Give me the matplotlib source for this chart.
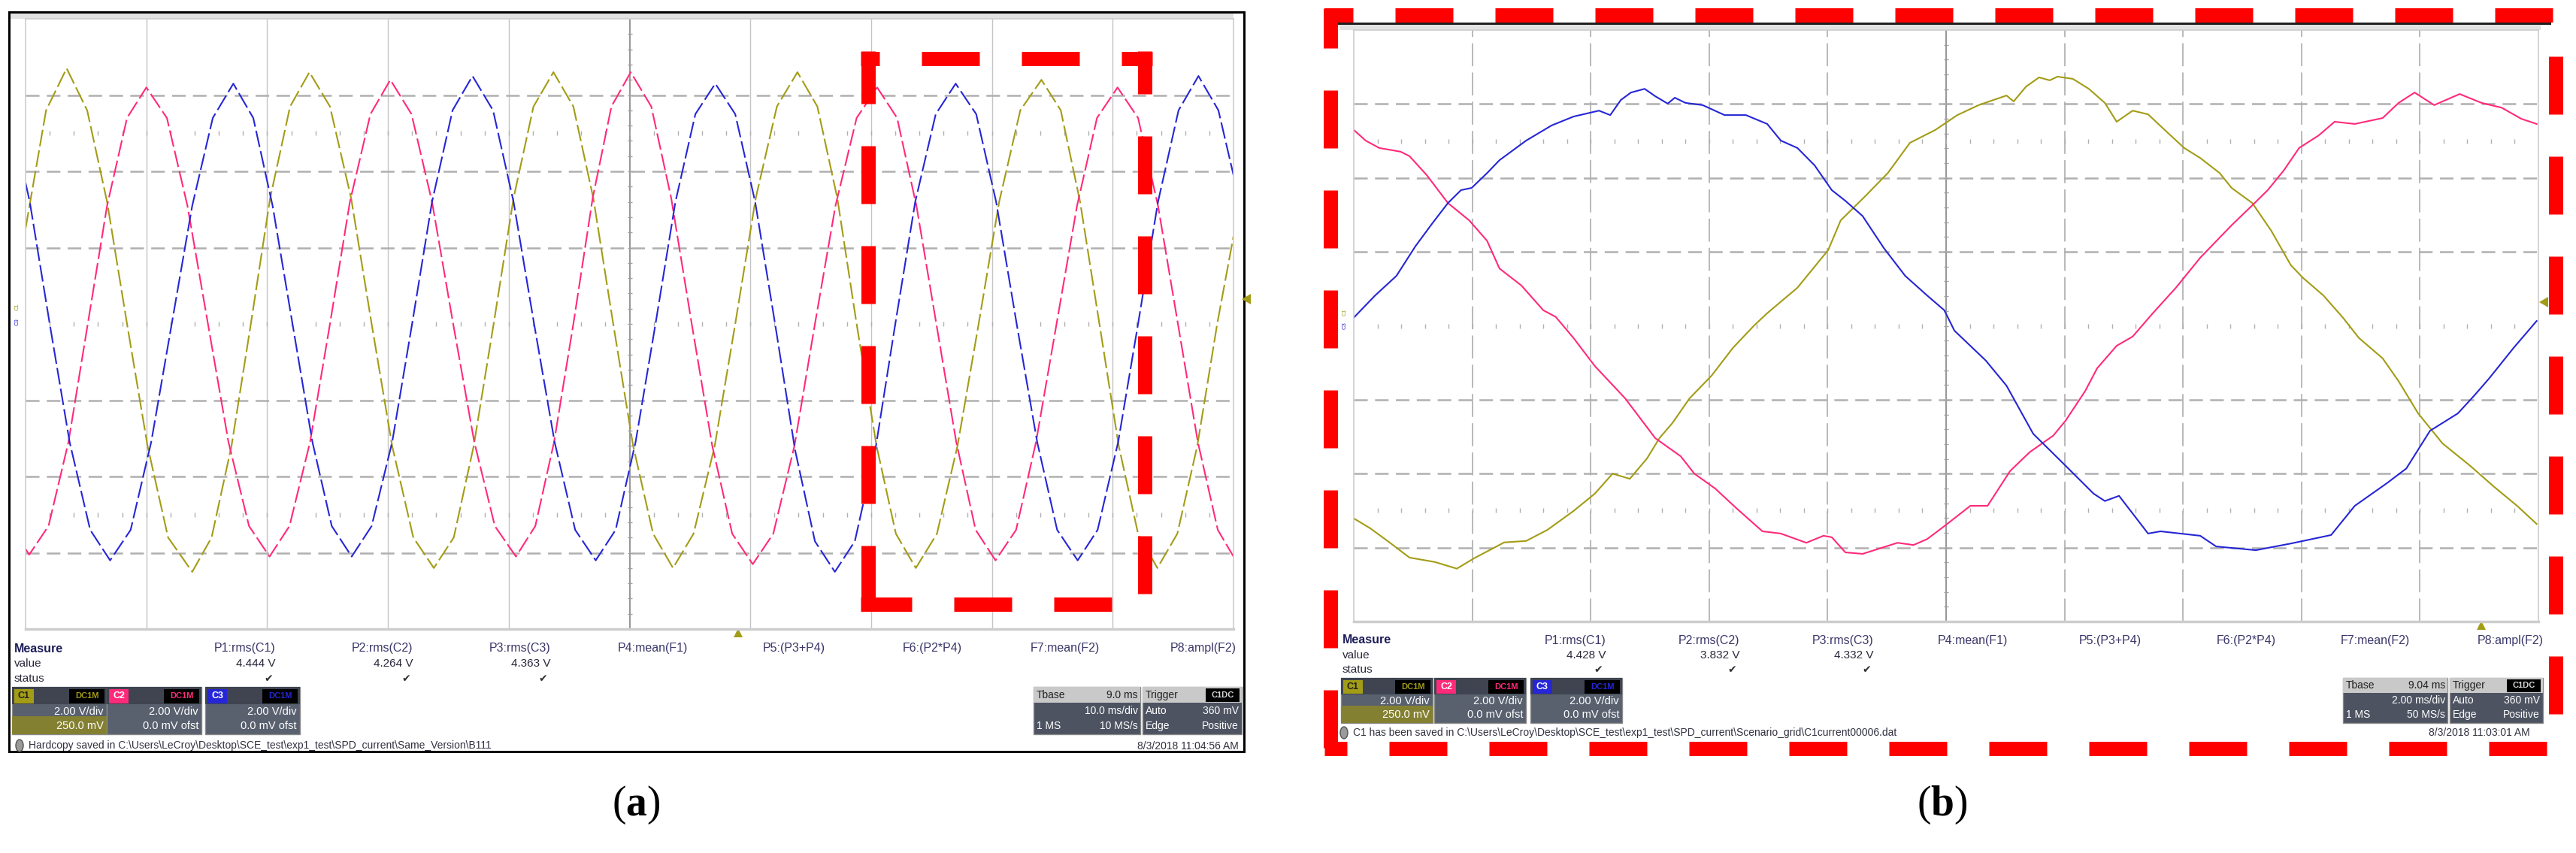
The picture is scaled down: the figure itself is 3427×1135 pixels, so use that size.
import matplotlib
matplotlib.use('Agg')
import matplotlib.pyplot as plt
from matplotlib.patches import Rectangle, Polygon, Ellipse

plt.rcParams['font.family'] = ['Liberation Sans', 'DejaVu Sans']
plt.rcParams['lines.scale_dashes'] = False
plt.rcParams['mathtext.fontset'] = 'custom'
plt.rcParams['mathtext.rm'] = 'Liberation Serif'
plt.rcParams['mathtext.bf'] = 'Liberation Serif:bold'

# ---------------- data ----------------
# (a) 10 ms/div, 2 V/div  -> time in ms, voltage in V
a_t_c1 = [0, 1.7, 3.4, 5.1, 6.75, 8.4, 10.1, 11.8, 13.8, 15.4, 17.05, 18.65, 20.25, 21.9, 23.5,
          25.2, 26.95, 28.65, 30.35, 32.1, 33.8, 35.45, 37.1, 38.75, 40.4, 42.05, 43.7, 45.35,
          47.0, 48.65, 50.3, 51.95, 53.6, 55.3, 57.05, 58.75, 60.45, 62.2, 63.9, 65.55, 67.2,
          68.8, 70.45, 72.05, 73.7, 75.45, 77.15, 78.9, 80.6, 82.35, 84.1, 85.7, 87.3, 88.9,
          90.5, 92.1, 93.7, 95.35, 97.0, 98.65, 100]
a_v_c1 = [2.5, 5.6, 6.7, 5.6, 3.2, 0.0, -3.2, -5.6, -6.5, -5.6, -3.2, 0.0, 3.3, 5.7, 6.6,
          5.7, 3.3, 0.0, -3.2, -5.6, -6.4, -5.6, -3.2, 0.0, 3.3, 5.7, 6.6, 5.7,
          3.3, 0.0, -3.2, -5.5, -6.4, -5.5, -3.2, 0.0, 3.3, 5.7, 6.6, 5.7, 3.3,
          0.0, -3.2, -5.5, -6.4, -5.5, -3.2, 0.0, 3.2, 5.6, 6.4, 5.6, 3.2, 0.0,
          -3.2, -5.5, -6.4, -5.5, -3.2, 0.0, 2.3]
a_t_c2 = [0, 0.3, 1.9, 3.55, 5.15, 6.75, 8.4, 10.0, 11.7, 13.4, 15.1, 16.8, 18.5, 20.2, 21.85,
          23.55, 25.2, 26.85, 28.55, 30.2, 31.95, 33.65, 35.4, 37.15, 38.85, 40.6, 42.2, 43.75,
          45.35, 46.95, 48.5, 50.1, 51.8, 53.45, 55.15, 56.85, 58.5, 60.2, 61.9, 63.65, 65.35,
          67.05, 68.8, 70.5, 72.15, 73.75, 75.4, 77.05, 78.65, 80.3, 82.0, 83.65, 85.35, 87.05,
          88.7, 90.4, 92.1, 93.75, 95.4, 97.05, 98.7, 100]
a_v_c2 = [-5.9, -6.05, -5.3, -3.1, 0.0, 3.1, 5.4, 6.2, 5.4, 3.1, 0.0, -3.1, -5.3, -6.1, -5.3,
          -3.1, 0.0, 3.2, 5.5, 6.4, 5.5, 3.2, 0.0, -3.1, -5.3, -6.1, -5.3, -3.1,
          0.0, 3.3, 5.7, 6.6, 5.7, 3.3, 0.0, -3.2, -5.5, -6.3, -5.5, -3.2, 0.0,
          3.1, 5.4, 6.2, 5.4, 3.1, 0.0, -3.1, -5.4, -6.2, -5.4, -3.1, 0.0, 3.1,
          5.4, 6.2, 5.4, 3.1, 0.0, -3.1, -5.4, -6.1]
a_t_c3 = [0, 0.35, 2.0, 3.65, 5.35, 7.0, 8.7, 10.4, 12.1, 13.8, 15.5, 17.2, 18.85, 20.45, 22.1,
          23.75, 25.35, 27.0, 28.65, 30.35, 32.0, 33.65, 35.35, 37.0, 38.7, 40.4, 42.1, 43.8,
          45.5, 47.2, 48.85, 50.5, 52.15, 53.8, 55.45, 57.1, 58.75, 60.4, 62.05, 63.7, 65.35,
          67.0, 68.65, 70.35, 72.0, 73.65, 75.35, 77.0, 78.7, 80.35, 82.05, 83.75, 85.4, 87.1,
          88.75, 90.45, 92.1, 93.75, 95.45, 97.1, 98.75, 100]
a_v_c3 = [3.7, 3.2, 0.0, -3.1, -5.4, -6.2, -5.4, -3.1, 0.0, 3.1, 5.4, 6.3, 5.4, 3.1, 0.0,
          -3.1, -5.3, -6.1, -5.3, -3.1, 0.0, 3.2, 5.6, 6.5, 5.6, 3.2, 0.0, -3.1,
          -5.4, -6.2, -5.4, -3.1, 0.0, 3.2, 5.5, 6.3, 5.5, 3.2, 0.0, -3.3, -5.7,
          -6.5, -5.7, -3.3, 0.0, 3.2, 5.5, 6.3, 5.5, 3.2, 0.0, -3.1, -5.4, -6.2,
          -5.4, -3.1, 0.0, 3.2, 5.6, 6.5, 5.6, 3.9]

# (b) 2 ms/div, 2 V/div
b_t_c1 = [0.0, 0.28, 0.57, 0.94, 1.37, 1.74, 2.03, 2.54, 2.91, 3.27, 3.71, 4.07, 4.37, 4.66,
          4.95, 5.16, 5.38, 5.67, 6.04, 6.40, 6.76, 6.98, 7.49, 8.01, 8.22, 8.65, 9.02, 9.39,
          9.82, 10.19, 10.55, 11.02, 11.14, 11.35, 11.57, 11.75, 11.88, 12.14, 12.41, 12.68,
          12.88, 13.15, 13.41, 13.69, 14.02, 14.29, 14.62, 14.82, 15.17, 15.49, 15.82, 16.03,
          16.37, 16.70, 16.97, 17.37, 17.64, 17.97, 18.38, 18.85, 19.24, 19.64, 19.97]
b_v_c1 = [-5.21, -5.48, -5.82, -6.27, -6.39, -6.57, -6.29, -5.86, -5.82, -5.52, -5.01, -4.54,
          -4.00, -4.14, -3.59, -3.04, -2.63, -1.96, -1.35, -0.60, 0.01, 0.34, 1.03, 2.05, 2.85,
          3.53, 4.14, 4.95, 5.30, 5.70, 5.97, 6.23, 6.07, 6.47, 6.72, 6.64, 6.74, 6.68, 6.41,
          6.03, 5.52, 5.82, 5.72, 5.30, 4.81, 4.54, 4.13, 3.73, 3.32, 2.57, 1.64, 1.29, 0.82,
          0.22, -0.33, -0.88, -1.50, -2.37, -3.18, -3.79, -4.34, -4.87, -5.36]
b_t_c2 = [0.0, 0.20, 0.43, 0.79, 0.94, 1.23, 1.59, 1.95, 2.25, 2.46, 2.83, 3.20, 3.41, 3.71,
          4.07, 4.58, 5.09, 5.52, 5.75, 6.10, 6.47, 6.90, 7.21, 7.64, 7.93, 8.07, 8.30, 8.59,
          9.18, 9.45, 9.68, 9.97, 10.41, 10.70, 11.08, 11.41, 11.81, 12.02, 12.35, 12.55,
          12.88, 13.15, 13.49, 13.88, 14.29, 14.82, 15.17, 15.43, 15.70, 15.96, 16.29, 16.56,
          16.90, 17.37, 17.64, 17.91, 18.24, 18.44, 18.67, 19.04, 19.38, 19.71, 19.97]
b_v_c2 = [5.30, 5.01, 4.81, 4.71, 4.59, 4.08, 3.32, 2.85, 2.30, 1.55, 1.09, 0.42, 0.24, -0.33,
          -1.09, -1.96, -3.04, -3.53, -4.00, -4.40, -4.95, -5.56, -5.62, -5.87, -5.68, -5.72,
          -6.13, -6.17, -5.87, -5.93, -5.77, -5.42, -4.87, -4.87, -3.93, -3.42, -2.97, -2.56,
          -1.76, -1.15, -0.54, -0.29, 0.34, 1.03, 1.84, 2.72, 3.26, 3.67, 4.20, 4.81, 5.15,
          5.52, 5.46, 5.62, 6.03, 6.31, 5.97, 6.11, 6.27, 6.03, 5.90, 5.60, 5.46]
b_t_c3 = [0.0, 0.36, 0.72, 1.04, 1.33, 1.59, 1.81, 1.99, 2.25, 2.46, 2.91, 3.34, 3.71, 4.14,
          4.33, 4.51, 4.68, 4.91, 5.09, 5.30, 5.42, 5.60, 5.89, 6.26, 6.62, 6.98, 7.21, 7.49,
          7.78, 8.07, 8.30, 8.59, 8.95, 9.31, 9.68, 9.97, 10.14, 10.67, 11.02, 11.47, 12.02,
          12.49, 12.68, 12.92, 13.41, 13.62, 14.29, 14.56, 15.23, 15.82, 16.50, 16.90, 17.44,
          17.77, 18.17, 18.64, 18.91, 19.17, 19.58, 19.97]
b_v_c3 = [0.22, 0.82, 1.35, 2.15, 2.78, 3.32, 3.67, 3.73, 4.13, 4.48, 5.01, 5.42, 5.66, 5.82,
          5.70, 6.11, 6.31, 6.41, 6.21, 6.01, 6.17, 6.03, 5.97, 5.70, 5.70, 5.46, 5.01, 4.81,
          4.34, 3.67, 3.38, 2.97, 2.10, 1.35, 0.82, 0.42, -0.13, -0.94, -1.62, -2.92, -3.79,
          -4.54, -4.74, -4.60, -5.62, -5.56, -5.68, -5.97, -6.07, -5.89, -5.66, -4.87, -4.26,
          -3.86, -2.84, -2.37, -1.90, -1.42, -0.60, 0.13]

meas_labels = ['P1:rms(C1)', 'P2:rms(C2)', 'P3:rms(C3)', 'P4:mean(F1)', 'P5:(P3+P4)',
               'F6:(P2*P4)', 'F7:mean(F2)', 'P8:ampl(F2)']
a_values = ['4.444 V', '4.264 V', '4.363 V']
b_values = ['4.428 V', '3.832 V', '4.332 V']
a_tbase = ['9.0 ms', '10.0 ms/div', '1 MS', '10 MS/s']
b_tbase = ['9.04 ms', '2.00 ms/div', '1 MS', '50 MS/s']
a_offsets = ['250.0 mV', '0.0 mV ofst', '0.0 mV ofst']
a_date = '8/3/2018 11:04:56 AM'
b_date = '8/3/2018 11:03:01 AM'
a_status = r'Hardcopy saved in C:\Users\LeCroy\Desktop\SCE_test\exp1_test\SPD_current\Same_Version\B111'
b_status = r'C1 has been saved in C:\Users\LeCroy\Desktop\SCE_test\exp1_test\SPD_current\Scenario_grid\C1current00006.dat'

# ---------------- figure ----------------
W, H = 3427, 1135
COL = ['#a39c16', '#ff2a7a', '#2626d6']
PT = 0.72   # pixels -> points at dpi 100

fig = plt.figure(figsize=(W / 100, H / 100), dpi=100)


def pixel_layer(z):
    a = fig.add_axes([0, 0, 1, 1], zorder=z)
    a.set_xlim(0, W)
    a.set_ylim(H, 0)
    a.axis('off')
    return a


bg = pixel_layer(0)
top = pixel_layer(3)


def txt(x, y, s, ax=None, **kw):
    kw.setdefault('va', 'center')
    kw.setdefault('size', 11)
    (ax or bg).text(x, y, s, **kw)


def scope(box, tspan, traces, vline, trace_ls):
    x0, y0, x1, y1 = box
    ax = fig.add_axes([x0 / W, 1 - y1 / H, (x1 - x0) / W, (y1 - y0) / H], zorder=1)
    ax.set_xlim(0, tspan)
    ax.set_ylim(-8, 8)
    ax.set_xticks([])
    ax.set_yticks([])
    for s in ax.spines.values():
        s.set_color('#cdcdcd')
        s.set_linewidth(1.2)
    ax.spines['bottom'].set_linewidth(2.5)
    div = tspan / 10
    for k in range(1, 10):
        if k == 5:
            ax.axvline(k * div, color='#8e8e8e', lw=1.3)
        else:
            ax.axvline(k * div, **vline)
    for v in (-6, -4, -2, 2, 4, 6):
        ax.axhline(v, color='#b0b0b0', lw=1.8, ls=(0, (13, 7)))
    xs = [i * div / 5 for i in range(1, 50)]
    for yrow in (0, 5, -5):
        ax.plot(xs, [yrow] * len(xs), ls='none', marker='|', ms=4, mew=1.0, color='#b0b0b0')
    ys = [-8 + i * 0.4 for i in range(1, 40)]
    ax.plot([tspan / 2] * len(ys), ys, ls='none', marker='_', ms=4, mew=1.0, color='#a0a0a0')
    for (t, v), c in zip(traces, COL):
        ax.plot(t, v, color=c, lw=1.5, ls=trace_ls, solid_joinstyle='round')
    return ax


def chan_box(x0, y0, x1, y1, i, line2):
    h = y1 - y0
    bg.add_patch(Rectangle((x0, y0), x1 - x0, h, fc='#59606e', ec='#8a8a8a', lw=1))
    bg.add_patch(Rectangle((x0, y0), x1 - x0, h * 0.36, fc='#3f4450', ec='none'))
    if i == 0:
        bg.add_patch(Rectangle((x0, y0 + h * 0.62), x1 - x0, h * 0.38, fc='#8c8628', ec='none', alpha=0.85))
    bg.add_patch(Rectangle((x0 + 3, y0 + 3), 26, h * 0.3, fc=COL[i], ec='none'))
    txt(x0 + 16, y0 + 3 + h * 0.15, 'C%d' % (i + 1), ha='center', size=9,
        color='#202020' if i == 0 else 'white', weight='bold')
    bg.add_patch(Rectangle((x1 - 50, y0 + 3), 47, h * 0.3, fc='black', ec='none'))
    txt(x1 - 26, y0 + 3 + h * 0.15, 'DC1M', ha='center', size=8, color=COL[i], weight='bold')
    txt(x1 - 4, y0 + h * 0.52, '2.00 V/div', ha='right', size=10.5, color='white')
    txt(x1 - 4, y0 + h * 0.82, line2, ha='right', size=10.5, color='white')


def time_boxes(x0, y0, xm, x1, y1, tb):
    h = y1 - y0
    for a, b in ((x0, xm - 2), (xm + 1, x1)):
        bg.add_patch(Rectangle((a, y0), b - a, h, fc='#4d5361', ec='#8a8a8a', lw=1))
        bg.add_patch(Rectangle((a, y0), b - a, h * 0.33, fc='#c9c9c9', ec='none'))
    txt(x0 + 4, y0 + h * 0.17, 'Tbase', size=10, color='#202020')
    txt(xm - 5, y0 + h * 0.17, tb[0], ha='right', size=10, color='#202020')
    txt(xm - 5, y0 + h * 0.5, tb[1], ha='right', size=10, color='white')
    txt(x0 + 4, y0 + h * 0.82, tb[2], size=10, color='white')
    txt(xm - 5, y0 + h * 0.82, tb[3], ha='right', size=10, color='white')
    txt(xm + 5, y0 + h * 0.17, 'Trigger', size=10, color='#202020')
    bg.add_patch(Rectangle((x1 - 48, y0 + 2), 45, h * 0.29, fc='black', ec='none'))
    txt(x1 - 25, y0 + h * 0.17, 'C1DC', ha='center', size=8, color='#d8d8d8', weight='bold')
    txt(xm + 5, y0 + h * 0.5, 'Auto', size=10, color='white')
    txt(x1 - 4, y0 + h * 0.5, '360 mV', ha='right', size=10, color='white')
    txt(xm + 5, y0 + h * 0.82, 'Edge', size=10, color='white')
    txt(x1 - 4, y0 + h * 0.82, 'Positive', ha='right', size=10, color='white')


def measure(xm, ym, dy, xend, dx, values):
    txt(xm, ym, 'Measure', weight='bold', color='#1c1c58', size=11.5)
    txt(xm, ym + dy, 'value', color='#28283a', size=11)
    txt(xm, ym + 2 * dy, 'status', color='#28283a', size=11)
    for i, lab in enumerate(meas_labels):
        txt(xend + i * dx, ym, lab, ha='right', color='#3a3668', size=11.5)
    for i, v in enumerate(values):
        txt(xend + i * dx, ym + dy, v, ha='right', color='#28283a', size=11)
        txt(xend + i * dx - 4, ym + 2 * dy, '\u2714', ha='right', color='#303030', size=10)


def red_side(ax, p0, p1, off):
    ax.plot([p0[0], p1[0]], [p0[1], p1[1]], color='#ff0000', lw=19 * PT,
            ls=(off * PT, (77 * PT, 56 * PT)), dash_capstyle='butt', solid_capstyle='butt')


# ---- panel (a) ----
bg.add_patch(Rectangle((12, 16), 1643, 984, fc='none', ec='black', lw=3 * PT))
bg.add_patch(Rectangle((14, 18), 1627, 7, fc='#e2e2e2', ec='none'))
scope((34, 25, 1641, 837), 100,
      [(a_t_c1, a_v_c1), (a_t_c2, a_v_c2), (a_t_c3, a_v_c3)],
      dict(color='#c4c4c4', lw=1.0), (0, (16, 4)))
measure(19, 863, 20, 367, 182.6, a_values)
for i in range(3):
    xs0 = [16, 142, 273][i]
    chan_box(xs0, 914, xs0 + 126, 977, i, a_offsets[i])
time_boxes(1375, 914, 1519, 1652, 977, a_tbase)
bg.add_patch(Ellipse((26, 992), 10, 16, fc='#9a9a9a', ec='#555555', lw=1))
txt(38, 992, a_status, size=10, color='#303040')
txt(1648, 993, a_date, ha='right', size=10, color='#303040')
bg.add_patch(Polygon([[976, 848], [988, 848], [982, 836]], fc=COL[0], ec='none'))
bg.add_patch(Polygon([[1652, 398], [1664, 391], [1664, 405]], fc=COL[0], ec='none'))
txt(23, 408, 'C1', size=5.5, color=COL[0], rotation=90, ha='center')
txt(23, 428, 'C3', size=5.5, color=COL[2], rotation=90, ha='center')

# ---- panel (b) ----
bg.plot([1780, 3392], [31, 31], color='#202020', lw=3 * PT)
bg.add_patch(Rectangle((1782, 33), 1598, 7, fc='#e2e2e2', ec='none'))
scope((1801, 40, 3377, 827), 20,
      [(b_t_c1, b_v_c1), (b_t_c2, b_v_c2), (b_t_c3, b_v_c3)],
      dict(color='#a6a6a6', lw=1.1, ls=(0, (22, 6))), '-')
measure(1786, 852, 19.5, 2136, 178.3, b_values)
for i in range(3):
    xs0 = [1784, 1908, 2036][i]
    chan_box(xs0, 902, xs0 + 122, 962, i, a_offsets[i])
time_boxes(3117, 902, 3258, 3383, 962, b_tbase)
bg.add_patch(Ellipse((1788, 975), 10, 16, fc='#9a9a9a', ec='#555555', lw=1))
txt(1800, 975, b_status, size=10, color='#303040')
txt(3366, 975, b_date, ha='right', size=10, color='#303040')
bg.add_patch(Polygon([[3295, 838], [3307, 838], [3301, 826]], fc=COL[0], ec='none'))
bg.add_patch(Polygon([[3378, 402], [3390, 395], [3390, 409]], fc=COL[0], ec='none'))
txt(1789, 415, 'C1', size=5.5, color=COL[0], rotation=90, ha='center')
txt(1789, 433, 'C3', size=5.5, color=COL[2], rotation=90, ha='center')

# ---- red dashed highlight in (a) and red frame round (b) ----
red_side(top, (1145, 78), (1533, 78), 52)
red_side(top, (1155, 68), (1155, 814), 7)
red_side(top, (1145, 804), (1533, 804), 9)
red_side(top, (1523, 68), (1523, 814), 20)
red_side(top, (1762, 20), (3396, 20), 39)
red_side(top, (1770, 11), (1770, 1006), 24)
red_side(top, (1762, 996), (3396, 996), 47)
red_side(top, (3400, 19), (3400, 1006), 77)

# ---- sub-captions ----
txt(846, 1071, r'($\mathbf{a}$)', ha='center', size=40, family='Liberation Serif', color='black')
txt(2584, 1071, r'($\mathbf{b}$)', ha='center', size=40, family='Liberation Serif', color='black')

fig.savefig('out.png', dpi=100, facecolor='white')
